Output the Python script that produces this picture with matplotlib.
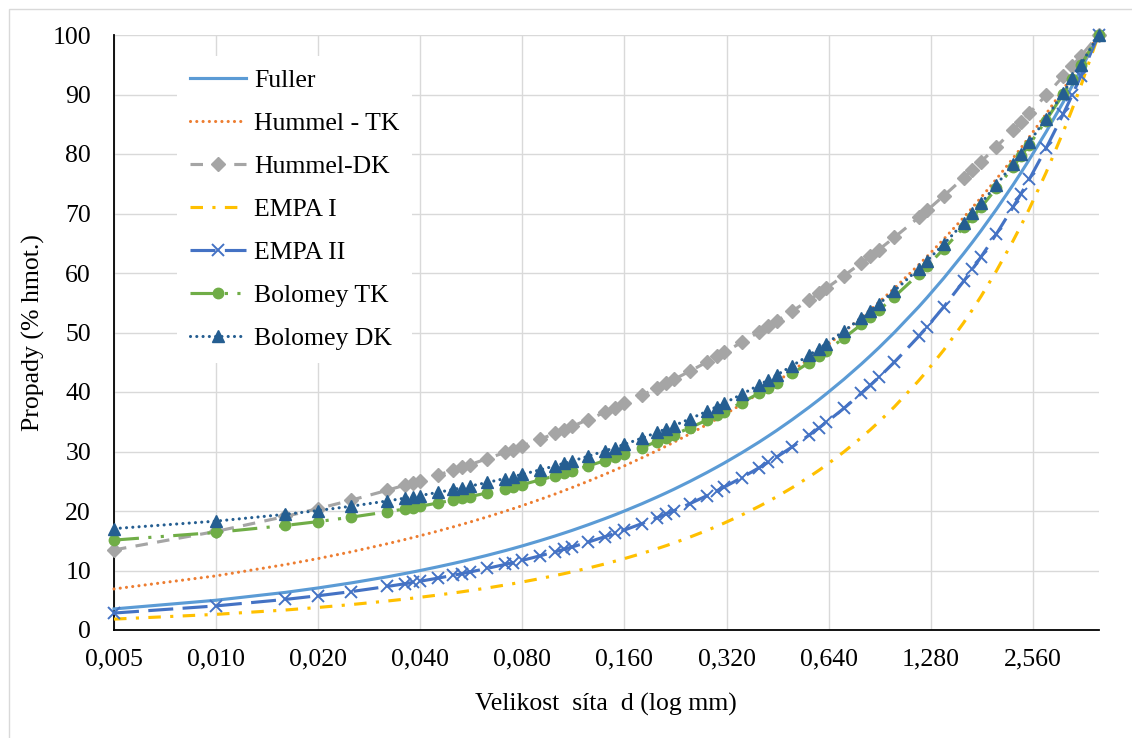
import matplotlib
matplotlib.use("Agg")
import matplotlib.pyplot as plt
from matplotlib.patches import Rectangle

# ---------------- data ----------------
sieve_d = [0.005, 0.01, 0.016, 0.02, 0.025, 0.032, 0.036, 0.038, 0.04, 0.045,
           0.05, 0.053, 0.056, 0.063, 0.071, 0.075, 0.08, 0.09, 0.1, 0.106,
           0.112, 0.125, 0.14, 0.15, 0.16, 0.18, 0.2, 0.212, 0.224, 0.25,
           0.28, 0.3, 0.315, 0.355, 0.4, 0.425, 0.45, 0.5, 0.56, 0.6,
           0.63, 0.71, 0.8, 0.85, 0.9, 1.0, 1.18, 1.25, 1.4, 1.6,
           1.7, 1.8, 2.0, 2.24, 2.36, 2.5, 2.8, 3.15, 3.35, 3.55, 4.0]

fuller = [3.54, 5.00, 6.32, 7.07, 7.91, 8.94, 9.49, 9.75, 10.00, 10.61,
          11.18, 11.51, 11.83, 12.55, 13.32, 13.69, 14.14, 15.00, 15.81, 16.28,
          16.73, 17.68, 18.71, 19.36, 20.00, 21.21, 22.36, 23.02, 23.66, 25.00,
          26.46, 27.39, 28.06, 29.79, 31.62, 32.60, 33.54, 35.36, 37.42, 38.73,
          39.69, 42.13, 44.72, 46.10, 47.43, 50.00, 54.31, 55.90, 59.16, 63.25,
          65.19, 67.08, 70.71, 74.83, 76.81, 79.06, 83.67, 88.74, 91.51, 94.21, 100.0]

hummel_tk = [6.90, 9.10, 10.99, 12.01, 13.13, 14.50, 15.20, 15.53, 15.85, 16.61,
             17.33, 17.74, 18.13, 19.01, 19.94, 20.38, 20.91, 21.92, 22.86, 23.41,
             23.93, 25.00, 26.16, 26.89, 27.59, 28.93, 30.17, 30.88, 31.57, 32.99,
             34.52, 35.48, 36.18, 37.95, 39.81, 40.79, 41.73, 43.53, 45.55, 46.82,
             47.74, 50.08, 52.53, 53.82, 55.06, 57.43, 61.37, 62.80, 65.71, 69.31,
             71.01, 72.66, 75.79, 79.31, 80.98, 82.86, 86.70, 90.88, 93.16, 95.34, 100.0]

hummel_dk = [13.46, 16.57, 19.08, 20.40, 21.81, 23.49, 24.34, 24.74, 25.12, 26.02,
             26.86, 27.33, 27.79, 28.79, 29.84, 30.33, 30.93, 32.04, 33.06, 33.65,
             34.21, 35.36, 36.58, 37.34, 38.07, 39.44, 40.71, 41.43, 42.12, 43.53,
             45.03, 45.97, 46.65, 48.36, 50.12, 51.04, 51.92, 53.59, 55.44, 56.60,
             57.44, 59.54, 61.71, 62.84, 63.92, 65.98, 69.34, 70.54, 72.99, 75.97,
             77.36, 78.69, 81.23, 84.04, 85.36, 86.85, 89.85, 93.08, 94.82, 96.48, 100.0]

empa_1 = [1.83, 2.63, 3.36, 3.79, 4.27, 4.87, 5.19, 5.35, 5.50, 5.87,
          6.22, 6.42, 6.62, 7.06, 7.55, 7.78, 8.07, 8.63, 9.16, 9.46,
          9.77, 10.40, 11.10, 11.56, 12.00, 12.86, 13.68, 14.16, 14.63, 15.63,
          16.73, 17.44, 17.97, 19.33, 20.81, 21.61, 22.40, 23.93, 25.71, 26.86,
          27.72, 29.94, 32.36, 33.67, 34.97, 37.50, 41.91, 43.58, 47.08, 51.62,
          53.85, 56.04, 60.36, 65.42, 67.91, 70.78, 76.83, 83.75, 87.63, 91.48, 100.0]

empa_2 = [2.85, 4.05, 5.14, 5.76, 6.45, 7.32, 7.77, 7.99, 8.20, 8.71,
          9.19, 9.47, 9.75, 10.35, 11.01, 11.33, 11.71, 12.45, 13.15, 13.55,
          13.95, 14.77, 15.67, 16.24, 16.80, 17.87, 18.89, 19.48, 20.05, 21.25,
          22.57, 23.41, 24.02, 25.61, 27.30, 28.20, 29.08, 30.78, 32.73, 33.98,
          34.90, 37.25, 39.78, 41.13, 42.45, 45.00, 49.35, 50.97, 54.33, 58.60,
          60.65, 62.67, 66.57, 71.07, 73.25, 75.75, 80.93, 86.74, 89.96, 93.12, 100.0]

bolomey_tk = [15.11, 16.40, 17.57, 18.22, 18.96, 19.87, 20.35, 20.58, 20.80, 21.33,
              21.84, 22.13, 22.41, 23.04, 23.72, 24.05, 24.45, 25.20, 25.91, 26.33,
              26.73, 27.56, 28.46, 29.04, 29.60, 30.67, 31.68, 32.26, 32.82, 34.00,
              35.28, 36.10, 36.69, 38.22, 39.83, 40.68, 41.52, 43.11, 44.93, 46.08,
              46.92, 49.08, 51.35, 52.57, 53.74, 56.00, 59.80, 61.19, 64.06, 67.66,
              69.37, 71.03, 74.23, 77.85, 79.59, 81.57, 85.63, 90.09, 92.53, 94.90, 100.0]

bolomey_dk = [17.04, 18.30, 19.44, 20.08, 20.80, 21.69, 22.16, 22.38, 22.60, 23.12,
              23.62, 23.90, 24.18, 24.79, 25.46, 25.78, 26.16, 26.90, 27.60, 28.00,
              28.39, 29.20, 30.09, 30.65, 31.20, 32.24, 33.23, 33.80, 34.35, 35.50,
              36.75, 37.55, 38.13, 39.62, 41.20, 42.03, 42.85, 44.41, 46.18, 47.31,
              48.13, 50.23, 52.46, 53.64, 54.79, 57.00, 60.71, 62.08, 64.88, 68.39,
              70.07, 71.69, 74.81, 78.36, 80.06, 81.99, 85.95, 90.32, 92.70, 95.02, 100.0]

x_ticks = [0.005, 0.010, 0.020, 0.040, 0.080, 0.160, 0.320, 0.640, 1.280, 2.560]
x_tick_labels = ["0,005", "0,010", "0,020", "0,040", "0,080", "0,160",
                 "0,320", "0,640", "1,280", "2,560"]
y_ticks = [0, 10, 20, 30, 40, 50, 60, 70, 80, 90, 100]

series_names = ["Fuller", "Hummel - TK", "Hummel-DK", "EMPA I", "EMPA II",
                "Bolomey TK", "Bolomey DK"]

# ---------------- figure ----------------
plt.rcParams['font.family'] = ['Liberation Serif', 'DejaVu Serif']
FS = 18.5
W, H = 1132, 738
fig = plt.figure(figsize=(W / 100, H / 100), dpi=100)
fig.patch.set_facecolor('white')

# chart border
fig.patches.append(Rectangle((8.5 / W, -0.01), (W - 8.5) / W + 0.02, 1 - 8.5 / H + 0.01,
                             transform=fig.transFigure, fill=False,
                             edgecolor='#D9D9D9', linewidth=1.0))

L, R, T, B = 114, 1098.5, 35, 630
ax = fig.add_axes([L / W, 1 - B / H, (R - L) / W, (B - T) / H])
ax.set_xscale('log', base=2)
ax.set_xlim(0.005, 4.0)
ax.set_ylim(0, 100)

ax.set_xticks(x_ticks)
ax.set_xticklabels(x_tick_labels)
ax.xaxis.set_minor_locator(matplotlib.ticker.NullLocator())
ax.set_yticks(y_ticks)
ax.set_yticklabels([str(v) for v in y_ticks])
ax.tick_params(axis='both', length=0, labelsize=FS)
ax.tick_params(axis='y', pad=16.5)
ax.tick_params(axis='x', pad=13)

ax.grid(True, color='#D9D9D9', linewidth=1.0, zorder=0)
ax.set_axisbelow(True)
for s in ['top', 'right']:
    ax.spines[s].set_visible(False)
for s in ['left', 'bottom']:
    ax.spines[s].set_color('black')
    ax.spines[s].set_linewidth(1.3)
    ax.spines[s].set_zorder(1)

LW = 2.25
common = dict(linewidth=LW, clip_on=False)

ax.plot(sieve_d, fuller, color='#5B9BD5', linestyle='-',
        label=series_names[0], zorder=3, **common)
ax.plot(sieve_d, hummel_tk, color='#ED7D31', linestyle=(0, (0.01, 2.0)),
        dash_capstyle='round', label=series_names[1], zorder=3, **common)
ax.plot(sieve_d, hummel_dk, color='#A5A5A5', linestyle=(0, (4, 3)),
        marker='D', markersize=7.5, markerfacecolor='#A5A5A5',
        markeredgecolor='#A5A5A5', label=series_names[2], zorder=3, **common)
ax.plot(sieve_d, empa_1, color='#FFC000', linestyle=(0, (4, 3, 1, 3)),
        label=series_names[3], zorder=3, **common)
ax.plot(sieve_d, empa_2, color='#4472C4', linestyle=(0, (8, 3)),
        marker='x', markersize=9, markeredgewidth=1.4,
        label=series_names[4], zorder=3, **common)
ax.plot(sieve_d, bolomey_tk, color='#70AD47', linestyle=(0, (8, 3, 1, 3, 1, 3)),
        marker='o', markersize=7.5, markerfacecolor='#70AD47',
        markeredgecolor='#70AD47', label=series_names[5], zorder=3, **common)
ax.plot(sieve_d, bolomey_dk, color='#255E91', linestyle=(0, (0.01, 2.0)),
        dash_capstyle='round', marker='^', markersize=8,
        markerfacecolor='#255E91', markeredgecolor='#255E91',
        label=series_names[6], zorder=3, **common)

ax.set_xlabel("Velikost  síta  d (log mm)", fontsize=FS)
ax.xaxis.set_label_coords(0.5, (B - 693) / (B - T))
ax.set_ylabel("Propady (% hmot.)", fontsize=FS)
ax.yaxis.set_label_coords((45 - L) / (R - L), 0.5)

leg = ax.legend(loc='upper left', bbox_to_anchor=(177 / W, 1 - 56 / H),
                bbox_transform=fig.transFigure, borderaxespad=0,
                fontsize=FS, frameon=True, facecolor='white', edgecolor='none',
                framealpha=1.0, fancybox=False, handlelength=2.2,
                handletextpad=0.3, labelspacing=0.78, borderpad=0.5,
                numpoints=1)
leg.set_zorder(5)

fig.savefig("out.png", dpi=100, facecolor='white')
